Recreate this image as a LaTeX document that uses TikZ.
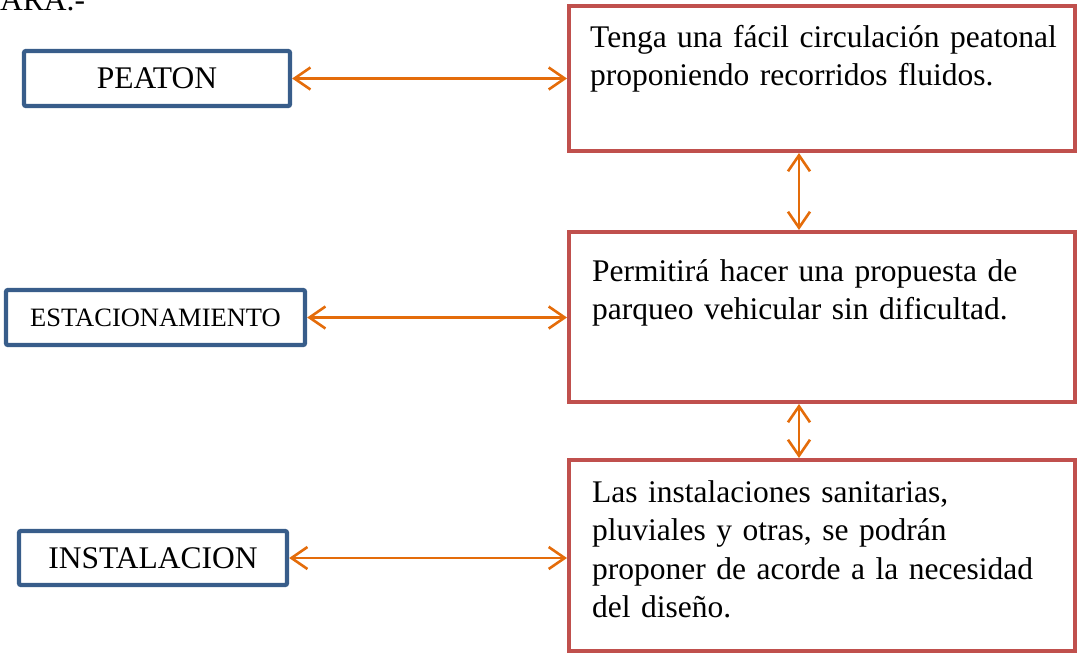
\documentclass[tikz,border=0pt]{standalone}
\usepackage{fontspec}
\setmainfont{Liberation Serif}
\usetikzlibrary{positioning, calc, arrows.meta}
\definecolor{Frame}{HTML}{385D8A}
\definecolor{Note}{HTML}{C0504D}
\definecolor{Link}{HTML}{E46C0A}
\tikzset{
    labelbox/.style={rectangle, rounded corners=2pt, draw=Frame, line width=4.3pt, align=center, font=\fontsize{31.5}{38}\selectfont},
    notebox/.style={rectangle, draw=Note, line width=4pt, minimum width=506pt},
    notetext/.style={anchor=base west, inner sep=0pt, text width=480pt, align=left, font=\fontsize{31.5}{38.5}\selectfont},
    link/.style={{Straight Barb[length=16pt,width=22pt]}-{Straight Barb[length=16pt,width=22pt]}, line width=2.6pt, color=Link},
}
\begin{document}
\begin{tikzpicture}[x=1pt, y=-1pt]
    \useasboundingbox (0,0) rectangle (1079,656);

    % Titolo (tagliato in alto)
    \node[anchor=base west, inner sep=0pt, font=\fontsize{31.5}{38}\selectfont] (title) at (0,10) {ARA.-};

    % --- Box a sinistra ---
    \node[labelbox, minimum width=266pt, minimum height=55pt] (peaton) at (157,78.5) {PEATON};
    \node[labelbox, minimum width=299pt, minimum height=55pt, font=\fontsize{26.5}{32}\selectfont] (estac) at (155.5,317.5) {ESTACIONAMIENTO};
    \node[labelbox, minimum width=268pt, minimum height=54pt] (instal) at (153,558) {INSTALACION};

    % --- Box a destra ---
    \node[notebox, minimum height=145pt] (circ) at (822,78.5) {};
    \node[notebox, minimum height=170pt] (parq) at (822,317) {};
    \node[notebox, minimum height=191pt] (inst) at (822,555.5) {};

    % Testi
    \node[notetext] (circtxt) at (590,47) {Tenga una fácil circulación peatonal\\proponiendo recorridos fluidos.};
    \node[notetext] (parqtxt) at (592,281) {Permitirá hacer una propuesta de\\parqueo vehicular sin dificultad.};
    \node[notetext] (insttxt) at (592,502) {Las instalaciones sanitarias,\\pluviales y otras, se podrán\\proponer de acorde a la necesidad\\del diseño.};

    % Frecce
    \draw[link] (peaton.east) -- (peaton.east -| circ.west);
    \draw[link] (estac.east) -- (estac.east -| parq.west);
    \draw[link] (instal.east) -- (instal.east -| inst.west);
    \draw[link] ([xshift=-23pt]circ.south) -- ([xshift=-23pt]parq.north);
    \draw[link] ([xshift=-23pt]parq.south) -- ([xshift=-23pt]inst.north);
\end{tikzpicture}
\end{document}
